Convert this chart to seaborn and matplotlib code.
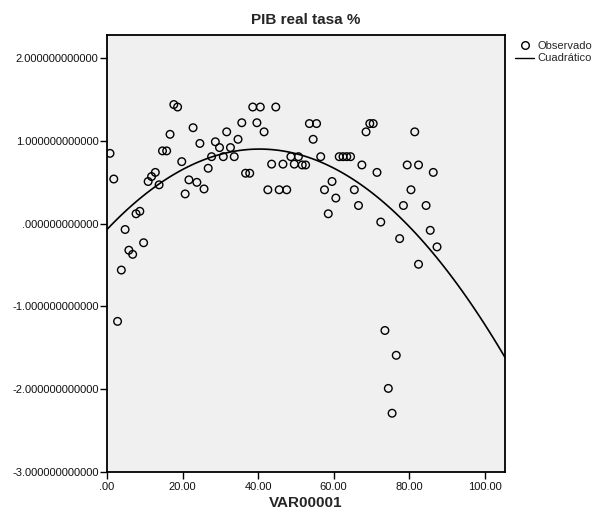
import numpy as np
import pandas as pd
import matplotlib.pyplot as plt
from matplotlib.lines import Line2D
from matplotlib.ticker import FuncFormatter
import seaborn as sns

# values
var00001 = [0.8, 1.8, 2.8, 3.8, 4.8, 5.8, 6.8, 7.7, 8.7, 9.7,
            10.9, 11.8, 12.8, 13.8, 14.7, 15.8, 16.7, 17.7, 18.7, 19.8,
            20.7, 21.7, 22.8, 23.8, 24.6, 25.7, 26.8, 27.7, 28.7, 29.8,
            30.8, 31.7, 32.7, 33.7, 34.7, 35.7, 36.7, 37.8, 38.6, 39.7,
            40.6, 41.6, 42.6, 43.6, 44.7, 45.6, 46.6, 47.6, 48.7, 49.6,
            50.7, 51.7, 52.6, 53.6, 54.6, 55.5, 56.6, 57.6, 58.6, 59.6,
            60.6, 61.5, 62.5, 63.5, 64.5, 65.5, 66.6, 67.5, 68.6, 69.6,
            70.5, 71.5, 72.5, 73.6, 74.5, 75.5, 76.6, 77.5, 78.5, 79.5,
            80.5, 81.5, 82.5, 82.5, 84.5, 85.6, 86.4, 87.4]
pib_real_tasa = [0.85, 0.54, -1.18, -0.56, -0.07, -0.32, -0.37, 0.12, 0.15, -0.23,
                 0.51, 0.57, 0.62, 0.47, 0.88, 0.88, 1.08, 1.44, 1.41, 0.75,
                 0.36, 0.53, 1.16, 0.50, 0.97, 0.42, 0.67, 0.81, 0.99, 0.92,
                 0.81, 1.11, 0.92, 0.81, 1.02, 1.22, 0.61, 0.61, 1.41, 1.22,
                 1.41, 1.11, 0.41, 0.72, 1.41, 0.41, 0.72, 0.41, 0.81, 0.72,
                 0.81, 0.71, 0.71, 1.21, 1.02, 1.21, 0.81, 0.41, 0.12, 0.51,
                 0.31, 0.81, 0.81, 0.81, 0.81, 0.41, 0.22, 0.71, 1.11, 1.21,
                 1.21, 0.62, 0.02, -1.29, -1.99, -2.29, -1.59, -0.18, 0.22, 0.71,
                 0.41, 1.11, 0.71, -0.49, 0.22, -0.08, 0.62, -0.28]

df = pd.DataFrame({"VAR00001": var00001, "PIB": pib_real_tasa})

sns.set_style("white")
plt.rcParams["font.family"] = ["Liberation Sans", "DejaVu Sans"]

fig = plt.figure(figsize=(5.97, 5.18), dpi=100)
ax = fig.add_axes([0.1792, 0.0888, 0.6667, 0.8436])
ax.set_facecolor("#f0f0f0")
ax.set_xlim(0, 105.4)
ax.set_ylim(-3.0, 2.28)

sns.scatterplot(data=df, x="VAR00001", y="PIB", ax=ax, marker="o", s=30,
                facecolor="none", edgecolor="black", linewidth=1.0, zorder=3)
sns.regplot(data=df, x="VAR00001", y="PIB", ax=ax, order=2, ci=None,
            scatter=False, truncate=False,
            line_kws={"color": "black", "linewidth": 1.2})
ax.set_xlim(0, 105.4)
ax.set_ylim(-3.0, 2.28)

ax.set_xticks([0, 20, 40, 60, 80, 100])
ax.set_yticks([-3, -2, -1, 0, 1, 2])


def spss_fmt(decimals):
    def f(v, pos):
        s = f"{v:.{decimals}f}"
        if s.startswith("0."):
            s = s[1:]
        elif s.startswith("-0."):
            s = "-" + s[2:]
        return s
    return FuncFormatter(f)


ax.xaxis.set_major_formatter(spss_fmt(2))
ax.yaxis.set_major_formatter(spss_fmt(12))
ax.tick_params(axis="both", direction="out", length=5, width=1,
               color="black", labelsize=8, pad=1, labelcolor="#111111")
ax.tick_params(axis="x", bottom=True, pad=2)
ax.tick_params(axis="y", left=True)
for sp in ax.spines.values():
    sp.set_color("black")
    sp.set_linewidth(1.3)

ax.set_xlabel("VAR00001", fontsize=11, fontweight="bold", labelpad=3)
ax.set_ylabel("")
ax.set_title("PIB real tasa %", fontsize=11, fontweight="bold", pad=8)

handles = [
    Line2D([], [], marker="o", linestyle="none", markerfacecolor="none",
           markeredgecolor="black", markersize=5.5, markeredgewidth=1.0),
    Line2D([], [], color="black", linewidth=1.0),
]
fig.legend(handles, ["Observado", "Cuadrático"], loc="upper left",
           bbox_to_anchor=(0.856, 0.93), frameon=False, fontsize=8,
           handlelength=1.7, handletextpad=0.3, labelspacing=0.25,
           borderaxespad=0)

fig.savefig("out.png", dpi=100, facecolor="white")
